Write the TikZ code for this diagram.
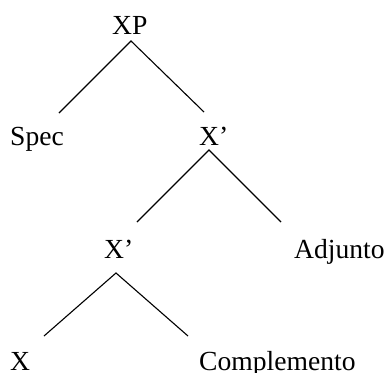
\documentclass[tikz,border=0pt]{standalone}
\usepackage{fontspec}
\setmainfont{Liberation Serif}
\begin{document}
\begin{tikzpicture}[x=1bp,y=-1bp,
  lbl/.style={anchor=base west,inner sep=0pt,font=\fontsize{27.6bp}{32bp}\selectfont},
  branch/.style={line width=1.1bp,line cap=butt}]
\useasboundingbox (0,0) rectangle (387,373);
\node[lbl] (xp) at (112,34) {XP};
\node[lbl] (spec) at (10,145) {Spec};
\node[lbl] (xb1) at (199,145) {X’};
\node[lbl] (xb2) at (104,258) {X’};
\node[lbl] (adj) at (294,258) {Adjunto};
\node[lbl] (x) at (10,370) {X};
\node[lbl] (comp) at (199,370) {Complemento};
\coordinate (a1) at (131,41);
\coordinate (l1) at (59,113);
\coordinate (r1) at (204,112);
\coordinate (a2) at (209,150);
\coordinate (l2) at (137,222);
\coordinate (r2) at (281,222);
\coordinate (a3) at (116,273);
\coordinate (l3) at (44,336);
\coordinate (r3) at (188,336);
\draw[branch] (l1) -- (a1) -- (r1);
\draw[branch] (l2) -- (a2) -- (r2);
\draw[branch] (l3) -- (a3) -- (r3);
\end{tikzpicture}
\end{document}
